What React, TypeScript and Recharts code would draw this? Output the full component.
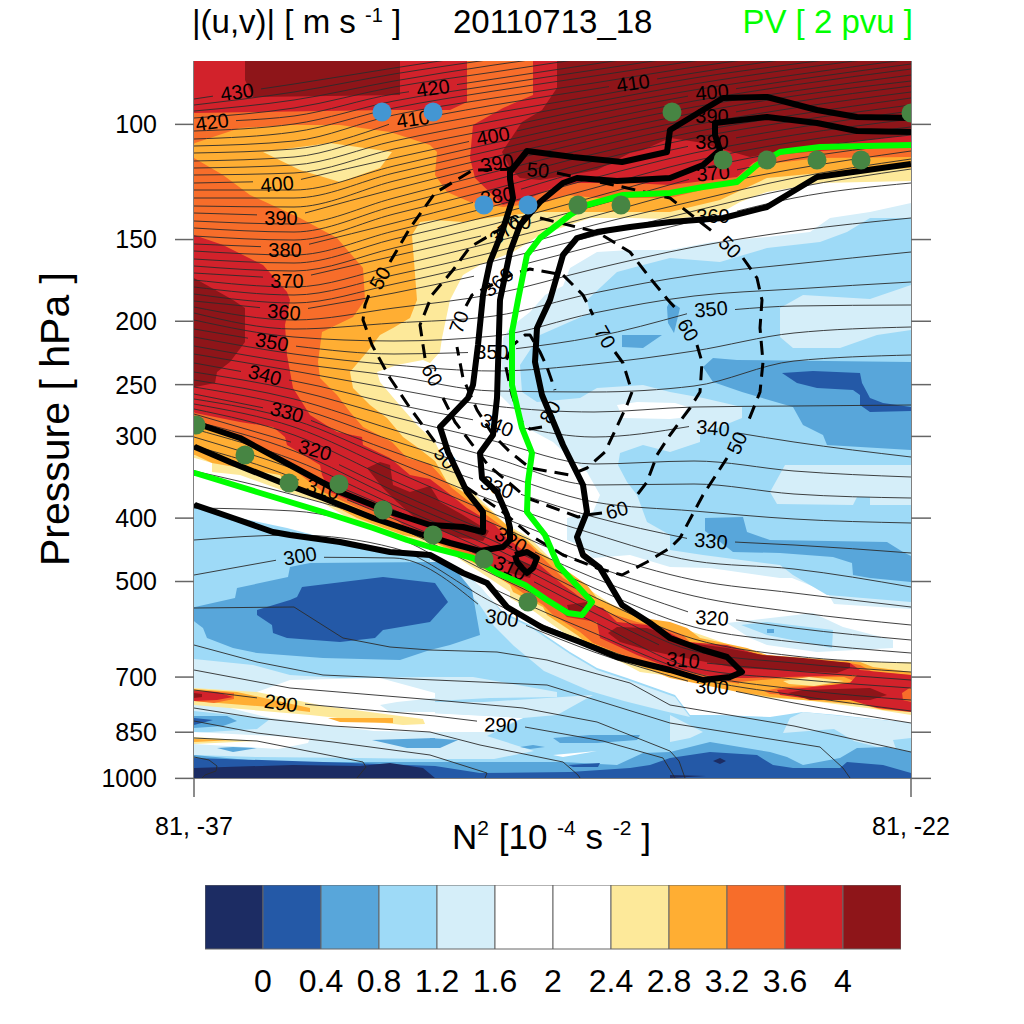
import React from "react";
import { BarChart, Bar, Curve, Scatter, ScatterChart, XAxis, YAxis } from "recharts";

const FONT = "Liberation Sans";

// N2 colour bands, low to high
const bandColors = ["#1c2c63", "#2459a7", "#58a6da", "#9edaf7", "#d5eef9", "#ffffff", "#ffffff", "#fde99a", "#ffae33", "#f76d2a", "#d2222b", "#8e1519"];
const bandLabels = ["0", "0.4", "0.8", "1.2", "1.6", "2", "2.4", "2.8", "3.2", "3.6", "4"];

// axes: distance along the section, and log-pressure height (both 0-717)
const pressureTicks = [100, 150, 200, 250, 300, 400, 500, 700, 850, 1000];
const heightOfPressure = (p: number) => 654 * Math.log10(p / 80);
const SPAN = 717;

type P = [number, number];

// N2 shading, painted in order
const plotBase: P[] = [[0, 0], [717, 0], [717, 717], [0, 717]];
const whiteMain: P[] = [[0, 0], [717, 0], [717, 662], [643, 654], [609, 651], [576, 656], [526, 654], [496, 654], [481, 634], [433, 617], [403, 607], [376, 591], [336, 564], [309, 551], [280, 520], [241, 497], [196, 491], [146, 481], [93, 467], [46, 457], [0, 444]];
const paleMain: P[] = [[717, 142], [676, 151], [636, 157], [616, 171], [573, 176], [519, 181], [476, 189], [436, 189], [403, 191], [376, 207], [369, 225], [351, 234], [336, 251], [323, 261], [316, 267], [309, 277], [306, 334], [323, 351], [333, 367], [359, 381], [376, 397], [393, 411], [406, 434], [399, 451], [373, 457], [373, 479], [385, 484], [399, 497], [436, 494], [476, 506], [516, 507], [586, 517], [598, 517], [633, 531], [640, 543], [717, 548]];
const blueMain: P[] = [[717, 157], [676, 157], [653, 171], [626, 181], [573, 187], [526, 201], [476, 197], [449, 204], [423, 211], [393, 239], [396, 252], [346, 274], [326, 304], [328, 331], [343, 341], [386, 337], [403, 327], [449, 324], [476, 331], [509, 337], [548, 346], [548, 357], [506, 374], [506, 381], [476, 391], [449, 384], [426, 392], [424, 404], [433, 421], [443, 434], [453, 461], [476, 474], [476, 489], [509, 494], [586, 504], [599, 514], [633, 534], [669, 537], [717, 541]];
const paleUpperRight: P[] = [[717, 224], [676, 238], [609, 234], [586, 247], [586, 276], [599, 287], [646, 287], [683, 274], [717, 269]];
const paleMidRight: P[] = [[591, 404], [717, 404], [717, 444], [676, 444], [676, 436], [663, 436], [659, 444], [583, 443], [576, 431]];
const midBlueRight: P[] = [[509, 306], [519, 297], [543, 299], [717, 301], [717, 389], [633, 384], [629, 374], [609, 364], [599, 346], [548, 331], [519, 321]];
const deepBlueRight: P[] = [[588, 312], [619, 310], [666, 312], [668, 322], [676, 337], [689, 342], [717, 346], [717, 350], [676, 351], [666, 344], [666, 334], [659, 329], [623, 327], [603, 322]];
const midBlueSpot: P[] = [[428, 274], [468, 274], [449, 287], [428, 286]];
const midBlueSliver: P[] = [[473, 246], [476, 240], [486, 247], [480, 272], [474, 262]];
const midBlueLower: P[] = [[511, 457], [549, 456], [553, 471], [576, 479], [693, 481], [709, 491], [717, 495], [717, 521], [676, 517], [659, 514], [658, 502], [639, 496], [586, 492], [539, 491], [525, 480], [511, 470]];
const whiteSpot: P[] = [[423, 344], [443, 341], [481, 342], [494, 346], [486, 357], [476, 358], [429, 357]];
const paleFrontSliver: P[] = [[236, 497], [259, 506], [286, 525], [309, 553], [336, 566], [376, 593], [403, 609], [433, 619], [481, 636], [496, 656], [470, 650], [430, 640], [396, 630], [350, 610], [320, 585], [300, 565], [283, 540], [256, 520], [236, 505]];
const paleTail: P[] = [[533, 562], [619, 552], [649, 566], [699, 579], [699, 587], [623, 591], [573, 584], [556, 577]];
const blueTail: P[] = [[547, 564], [573, 561], [639, 569], [638, 587], [573, 574]];
const midBlueTail: P[] = [[573, 568], [580, 568], [580, 572], [573, 572]];
const paleBottomRight: P[] = [[609, 651], [717, 662], [717, 677], [699, 679], [703, 691], [660, 680], [640, 668], [589, 672], [596, 657]];
const paleBottomMid: P[] = [[476, 654], [509, 671], [496, 677], [476, 681]];
const midBlueBlob: P[] = [[1, 546], [41, 537], [43, 527], [94, 516], [96, 506], [116, 502], [241, 501], [256, 502], [278, 529], [286, 574], [256, 584], [236, 589], [206, 599], [129, 597], [63, 592], [39, 587], [13, 577], [9, 567], [1, 561], [0, 560], [0, 546]];
const deepBlueBlob: P[] = [[103, 536], [108, 526], [189, 516], [241, 522], [254, 541], [236, 561], [189, 569], [181, 577], [146, 581], [93, 577], [79, 572], [78, 564], [63, 554], [63, 549], [96, 539]];
const lowPale: P[] = [[0, 598], [59, 604], [96, 614], [146, 617], [236, 616], [279, 616], [363, 631], [363, 636], [296, 637], [241, 640], [236, 652], [329, 657], [293, 675], [340, 690], [300, 698], [241, 698], [163, 697], [63, 696], [0, 694]];
const lowPaleRight: P[] = [[290, 641], [399, 634], [363, 654], [329, 657], [236, 652], [236, 641]];
const lowWhiteLeft: P[] = [[96, 619], [186, 617], [241, 632], [241, 671], [180, 670], [76, 657], [36, 647], [60, 632]];
const lowWhiteMid: P[] = [[236, 652], [329, 657], [293, 671], [236, 671]];
const lowPaleSpot: P[] = [[186, 644], [203, 641], [241, 637], [241, 651], [196, 651]];
const lowBlueLeft: P[] = [[0, 650], [76, 658], [63, 668], [0, 672]];
const lowMidLeft: P[] = [[0, 655], [33, 655], [43, 660], [29, 665], [0, 667]];
const lowDeepLeft: P[] = [[0, 657], [19, 659], [0, 664]];
const lowWhiteBand: P[] = [[0, 671], [116, 677], [114, 682], [84, 688], [0, 683]];
const lowWhiteSliver: P[] = [[359, 694], [403, 690], [369, 696]];
const lowSpots: P[][] = [
  [[359, 677], [396, 674], [446, 674], [443, 679], [403, 682], [366, 682]],
  [[326, 686], [339, 684], [351, 686], [336, 688]],
  [[236, 677], [264, 679], [246, 687], [236, 687]],
  [[178, 679], [241, 677], [241, 687], [213, 687]],
  [[23, 687], [39, 686], [63, 687], [39, 691]],
];
const bottomMid: P[] = [[0, 694], [76, 701], [241, 701], [369, 701], [423, 704], [449, 692], [476, 691], [516, 681], [576, 691], [593, 696], [609, 704], [646, 697], [663, 687], [693, 686], [717, 691], [717, 717], [0, 717]];
const bottomDeep: P[] = [[0, 697], [129, 701], [241, 705], [286, 712], [376, 711], [436, 707], [456, 704], [476, 697], [516, 691], [563, 694], [579, 704], [599, 707], [646, 707], [653, 701], [689, 704], [717, 712], [717, 717], [0, 717]];
const bottomNavy: P[] = [[0, 707], [99, 704], [166, 705], [196, 702], [229, 707], [241, 717], [0, 717]];
const navySpot: P[] = [[519, 700], [526, 697], [532, 700], [526, 703]];
const navySliver: P[] = [[476, 714], [512, 715], [476, 717]];
const deepSpotLow: P[] = [[374, 704], [406, 702], [404, 706], [379, 706]];
const lowYellow: P[] = [[0, 627], [63, 631], [130, 645], [229, 658], [231, 663], [209, 664], [116, 654], [0, 644]];
const lowAmberA: P[] = [[0, 628], [43, 631], [116, 647], [116, 651], [76, 646], [0, 640]];
const lowAmberB: P[] = [[134, 657], [199, 657], [199, 662], [146, 661]];
const lowOrange: P[] = [[0, 629], [40, 632], [40, 638], [20, 642], [0, 640]];
const lowRed: P[] = [[0, 630], [23, 631], [39, 636], [23, 639], [0, 640]];
const lowDark: P[] = [[0, 632], [8, 633], [8, 636], [0, 637]];
const nearGroundYellow: P[] = [[0, 676], [63, 680], [0, 683]];
const nearGroundAmber: P[] = [[0, 678], [40, 679], [0, 681]];

const yellowFront: P[] = [[0, 0], [717, 0], [717, 120], [626, 122], [573, 131], [546, 141], [523, 154], [476, 158], [436, 157], [396, 157], [346, 174], [319, 191], [286, 204], [269, 214], [256, 239], [248, 277], [246, 291], [236, 302], [229, 299], [203, 304], [183, 311], [186, 321], [203, 341], [223, 364], [241, 381], [246, 391], [269, 421], [289, 441], [313, 464], [336, 477], [356, 497], [379, 517], [399, 531], [423, 547], [449, 561], [476, 564], [499, 571], [536, 584], [573, 594], [609, 598], [666, 601], [717, 601], [717, 654], [673, 647], [609, 639], [576, 637], [544, 631], [499, 619], [476, 615], [446, 611], [429, 602], [396, 587], [383, 581], [349, 557], [341, 551], [316, 537], [316, 531], [286, 511], [259, 494], [236, 484], [209, 479], [161, 461], [129, 442], [93, 431], [46, 414], [18, 411], [18, 402], [1, 397], [0, 397]];
const amberFront: P[] = [[0, 0], [717, 0], [717, 107], [626, 112], [573, 117], [526, 139], [476, 151], [396, 151], [346, 151], [319, 154], [293, 157], [269, 161], [241, 159], [226, 161], [218, 174], [223, 239], [216, 257], [199, 267], [186, 274], [173, 291], [156, 311], [159, 327], [176, 344], [193, 357], [209, 376], [223, 386], [241, 400], [253, 421], [279, 437], [293, 447], [316, 467], [333, 479], [346, 491], [369, 507], [393, 524], [403, 537], [426, 547], [449, 557], [476, 561], [493, 567], [506, 577], [553, 587], [573, 594], [666, 601], [679, 606], [717, 611], [717, 651], [689, 649], [669, 644], [609, 639], [576, 636], [544, 631], [476, 617], [443, 604], [399, 587], [383, 574], [353, 554], [349, 546], [319, 531], [316, 524], [289, 507], [259, 491], [236, 479], [209, 474], [163, 457], [129, 439], [93, 424], [86, 414], [18, 402], [1, 394], [0, 394]];
const yellowIsland: P[] = [[69, 91], [136, 82], [198, 91], [186, 107], [146, 121], [106, 109]];
const orangeTop: P[] = [[0, 0], [717, 0], [717, 96], [626, 97], [563, 104], [539, 121], [476, 137], [403, 137], [373, 134], [353, 141], [309, 146], [276, 141], [253, 131], [241, 114], [243, 91], [236, 84], [196, 71], [146, 64], [96, 64], [46, 67], [1, 82], [0, 83]];
const orangeFront: P[] = [[0, 97], [29, 114], [56, 134], [106, 157], [143, 177], [169, 207], [171, 239], [159, 256], [128, 271], [124, 301], [126, 317], [143, 334], [156, 351], [169, 366], [198, 381], [213, 397], [236, 403], [258, 427], [283, 447], [313, 469], [336, 484], [353, 501], [369, 517], [389, 529], [399, 544], [416, 552], [443, 561], [476, 569], [489, 574], [496, 581], [533, 587], [569, 594], [656, 602], [666, 604], [679, 611], [717, 614], [717, 645], [640, 636], [576, 633], [560, 625], [476, 612], [436, 597], [399, 582], [386, 571], [359, 554], [349, 544], [329, 532], [299, 511], [279, 499], [256, 487], [236, 479], [209, 467], [179, 454], [129, 431], [96, 406], [43, 379], [1, 362], [0, 361]];
const amberTail: P[] = [[545, 621], [590, 617], [650, 616], [660, 620], [640, 624], [590, 626], [570, 630], [545, 630]];
const yellowTail: P[] = [[589, 620], [615, 616], [650, 620], [620, 625], [595, 623]];
const redTopLeft: P[] = [[0, 0], [273, 0], [273, 41], [256, 49], [196, 49], [63, 51], [0, 52]];
const redTopRight: P[] = [[339, 0], [339, 34], [309, 47], [279, 64], [276, 97], [281, 117], [309, 144], [336, 137], [359, 127], [383, 122], [436, 122], [476, 124], [543, 116], [559, 102], [579, 94], [626, 90], [717, 85], [717, 0]];
const redFront: P[] = [[0, 174], [29, 184], [69, 204], [93, 231], [96, 239], [91, 264], [93, 294], [99, 327], [116, 354], [143, 371], [168, 376], [169, 384], [196, 397], [216, 414], [236, 418], [253, 431], [273, 447], [301, 464], [313, 477], [326, 487], [346, 504], [369, 524], [379, 531], [396, 544], [409, 547], [423, 561], [453, 564], [476, 572], [493, 581], [533, 584], [573, 596], [656, 602], [666, 609], [717, 614], [717, 651], [683, 647], [649, 637], [609, 637], [586, 634], [583, 629], [609, 627], [656, 622], [663, 614], [593, 616], [553, 617], [526, 617], [476, 607], [443, 594], [406, 577], [403, 561], [373, 556], [366, 549], [343, 531], [299, 511], [283, 494], [256, 481], [209, 464], [196, 454], [173, 447], [136, 431], [128, 414], [126, 404], [93, 384], [91, 376], [79, 366], [46, 361], [1, 352], [0, 351]];
const orangeEdgeRight: P[] = [[708, 632], [717, 626], [717, 641], [709, 639]];
const darkTopLeft: P[] = [[51, 0], [51, 19], [59, 36], [206, 34], [206, 0]];
const darkLeft: P[] = [[0, 217], [39, 239], [51, 247], [51, 281], [36, 301], [23, 311], [21, 322], [1, 326], [0, 326]];
const darkTopRight: P[] = [[363, 0], [363, 27], [348, 49], [328, 61], [308, 91], [316, 107], [326, 117], [346, 119], [376, 114], [403, 109], [436, 92], [449, 89], [476, 77], [503, 81], [556, 96], [583, 91], [626, 84], [717, 74], [717, 0]];
const darkFold: P[] = [[173, 407], [186, 401], [196, 404], [199, 424], [216, 431], [236, 425], [246, 441], [269, 454], [295, 470], [289, 480], [263, 476], [241, 467], [226, 461], [203, 441], [188, 426]];
const darkLoop: P[] = [[320, 497], [340, 505], [336, 517], [316, 512]];
const darkSpot: P[] = [[373, 544], [393, 541], [396, 549], [386, 556], [376, 554]];
const darkStrip: P[] = [[414, 572], [423, 566], [453, 567], [476, 574], [496, 582], [533, 587], [569, 594], [609, 597], [656, 602], [656, 607], [643, 612], [543, 607], [476, 594], [453, 589], [426, 581]];
const darkTail: P[] = [[594, 632], [609, 629], [676, 627], [693, 634], [676, 639], [616, 639]];

const shadeOrder: [number, P[]][] = [
  [3, plotBase], [5, whiteMain], [4, paleMain], [3, blueMain], [4, paleUpperRight], [4, paleMidRight],
  [2, midBlueRight], [1, deepBlueRight], [2, midBlueSpot], [2, midBlueSliver], [2, midBlueLower], [5, whiteSpot],
  [4, paleFrontSliver], [4, paleTail], [3, blueTail], [2, midBlueTail], [4, paleBottomRight], [4, paleBottomMid],
  [2, midBlueBlob], [1, deepBlueBlob], [4, lowPale], [4, lowPaleRight], [5, lowWhiteLeft], [5, lowWhiteMid],
  [4, lowPaleSpot], [3, lowBlueLeft], [2, lowMidLeft], [1, lowDeepLeft], [5, lowWhiteBand], [5, lowWhiteSliver],
  ...lowSpots.map((s): [number, P[]] => [2, s]),
  [2, bottomMid], [1, bottomDeep], [0, bottomNavy], [0, navySpot], [0, navySliver], [1, deepSpotLow],
  [7, lowYellow], [8, lowAmberA], [8, lowAmberB], [9, lowOrange], [10, lowRed], [11, lowDark], [7, nearGroundYellow], [8, nearGroundAmber],
  [7, yellowFront], [8, amberFront], [7, yellowIsland], [9, orangeTop], [9, orangeFront], [8, amberTail], [7, yellowTail],
  [10, redTopLeft], [10, redTopRight], [10, redFront], [9, orangeEdgeRight],
  [11, darkTopLeft], [11, darkLeft], [11, darkTopRight], [11, darkFold], [11, darkLoop], [11, darkSpot], [11, darkStrip], [11, darkTail],
];

// potential temperature: height of each level at these section stations
const thetaStations = [0, 100, 200, 300, 400, 500, 600, 717];
const thetaLevels = [300, 302.5, 305, 307.5, 310, 312.5, 315, 317.5, 320, 322.5, 325, 327.5, 330, 332.5, 335, 337.5, 340, 342.5, 345, 347.5, 350, 352.5, 355, 357.5, 360, 362.5, 365, 367.5, 370, 372.5, 375, 377.5, 380, 382.5, 385, 387.5, 390, 392.5, 395, 397.5, 400, 402.5, 405, 407.5, 410, 412.5, 415, 417.5, 420, 422.5, 425, 427.5, 430];
const thetaHeights = [
  [514, 496, 497, 552, 591, 622, 642, 662], [479, 474, 487, 542, 584, 617, 634, 650], [447, 450, 475, 528, 572, 612, 628, 639], [410, 434, 465, 514, 561, 607, 618, 627],
  [385, 417, 458, 500, 552, 601, 610, 619], [376, 408, 449, 493, 544, 590, 602, 611], [368, 399, 444, 487, 536, 578, 595, 602], [360, 390, 437, 480, 527, 566, 581, 592],
  [353, 382, 430, 473, 517, 553, 567, 579], [348, 374, 420, 463, 505, 535, 551, 564], [343, 366, 410, 453, 491, 519, 532, 546], [338, 359, 400, 440, 473, 500, 508, 526],
  [333, 353, 391, 425, 456, 479, 484, 492], [326, 346, 380, 411, 441, 450, 458, 462], [319, 338, 369, 397, 424, 423, 433, 437], [311, 329, 356, 380, 403, 400, 410, 416],
  [302, 320, 343, 363, 376, 365, 381, 396], [293, 310, 328, 345, 351, 346, 345, 344], [285, 302, 315, 330, 331, 325, 300, 294], [276, 293, 304, 310, 303, 290, 272, 266],
  [268, 285, 293, 291, 276, 251, 245, 244], [259, 276, 280, 275, 252, 235, 228, 221], [252, 268, 262, 255, 232, 214, 203, 191], [246, 259, 247, 233, 208, 186, 170, 157],
  [240, 250, 232, 211, 185, 160, 137, 122], [233, 242, 223, 200, 175, 150, 127, 108], [226, 234, 214, 191, 164, 140, 117, 98], [219, 226, 205, 181, 155, 128, 108, 90],
  [212, 218, 195, 172, 145, 117, 98, 82], [205, 210, 187, 163, 136, 109, 89, 74], [198, 202, 178, 154, 127, 100, 81, 66], [190, 194, 170, 145, 117, 92, 74, 58],
  [183, 187, 162, 136, 107, 84, 67, 50], [175, 179, 153, 128, 100, 77, 60, 44], [167, 171, 145, 119, 93, 71, 54, 37], [160, 163, 137, 111, 86, 64, 47, 31],
  [152, 155, 128, 103, 79, 58, 41, 25], [145, 146, 120, 96, 73, 52, 35, 20], [137, 137, 112, 89, 66, 46, 30, 14], [129, 129, 105, 82, 60, 40, 24, 8],
  [122, 120, 97, 75, 53, 34, 19, 3], [114, 112, 88, 68, 47, 29, 14, -2], [107, 104, 80, 60, 41, 23, 8, -7], [100, 96, 71, 52, 35, 17, 3, -12],
  [92, 88, 62, 44, 28, 12, -3, -17], [85, 80, 54, 37, 22, 6, -8, -22], [78, 71, 47, 30, 15, 0, -14, -28], [70, 63, 40, 24, 9, -6, -20, -34],
  [63, 55, 33, 18, 3, -12, -26, -40], [57, 47, 26, 11, -4, -18, -32, -46], [50, 39, 20, 4, -10, -24, -38, -52], [44, 31, 13, -2, -16, -30, -44, -58],
  [38, 23, 7, -8, -22, -36, -50, -64],
];
const theta2975: P[] = [[0, 547], [100, 546], [149, 577], [196, 586], [236, 589], [303, 591], [353, 599], [396, 611], [436, 622], [476, 644], [600, 665], [717, 691]];
const theta295: P[] = [[0, 584], [63, 601], [129, 614], [241, 619], [353, 624], [476, 662], [626, 686], [649, 707], [656, 717]];
const theta2925: P[] = [[0, 609], [96, 627], [241, 639], [329, 647], [403, 661], [476, 690], [485, 700], [491, 717]];
const theta290: P[] = [[0, 629], [64, 637], [109, 643], [241, 655], [331, 666], [409, 680], [469, 697], [481, 717]];
const theta2875: P[] = [[0, 647], [63, 657], [139, 665], [236, 671], [286, 684], [369, 701], [384, 714], [386, 717]];
const theta285: P[] = [[0, 660], [63, 672], [139, 681], [236, 694], [293, 712], [291, 717]];
const theta2825: P[] = [[0, 677], [63, 680], [169, 701], [172, 706], [163, 717]];
const theta280: P[] = [[0, 696], [15, 699], [23, 705], [22, 710], [11, 714], [8, 717]];
const lowThetaLines = [theta2975, theta295, theta2925, theta2875, theta285, theta2825, theta280];

const thetaLabels: [number, number, number, number][] = [
  [430, 43, 31, -8], [420, 18, 61, -8], [420, 239, 27, -8], [410, 219, 58, -8], [410, 439, 22, -8],
  [400, 83, 123, -5], [400, 299, 75, -10], [400, 518, 31, -5], [390, 87, 157, 0], [390, 303, 102, -10], [390, 518, 55, 0],
  [380, 91, 189, 0], [380, 303, 135, -10], [380, 518, 81, 0], [370, 93, 220, 0], [370, 311, 169, -40], [370, 519, 112, -5],
  [360, 90, 251, 5], [360, 304, 221, -40], [360, 519, 155, 0], [350, 78, 281, 10], [350, 298, 291, 0], [350, 517, 248, -5],
  [340, 71, 314, 15], [340, 303, 364, 22], [340, 519, 367, 5], [330, 93, 351, 15], [330, 303, 426, 20], [330, 517, 480, 5],
  [320, 121, 389, 15], [320, 317, 479, 30], [320, 518, 557, 3], [310, 129, 428, 15], [310, 316, 507, 25], [310, 489, 599, 5],
  [300, 106, 495, -10], [300, 308, 557, 8], [300, 518, 626, 3], [290, 87, 642, 8], [290, 307, 664, 2],
];

// wind speed, one list per dashed run between labels
const speed50: P[][] = [
  [[363, 112], [433, 127], [476, 137], [519, 171]],
  [[549, 197], [563, 217], [568, 239], [566, 267], [569, 301], [566, 331], [554, 361]],
  [[533, 397], [509, 434], [486, 477], [476, 487], [453, 501], [428, 514], [403, 507], [369, 494], [336, 474], [309, 451], [269, 424]],
  [[241, 381], [216, 347], [196, 317], [178, 284], [169, 259], [171, 244], [176, 231]],
  [[196, 201], [216, 167], [241, 132], [279, 109], [325, 108]],
];
const speed60: P[][] = [
  [[346, 157], [403, 171], [436, 191], [456, 217], [474, 239], [484, 250]],
  [[503, 284], [508, 301], [506, 331], [496, 347], [476, 374], [463, 394], [453, 421], [443, 434]],
  [[408, 452], [393, 454], [384, 456], [333, 437], [294, 404], [261, 361], [249, 337]],
  [[231, 297], [226, 264], [238, 234], [259, 209], [276, 186], [310, 166]],
];
const speed70: P[][] = [
  [[272, 245], [278, 234], [319, 213], [336, 208], [369, 214], [389, 234], [399, 254]],
  [[421, 291], [429, 302], [438, 331], [433, 344], [411, 391], [393, 407], [376, 414], [336, 407], [316, 391], [299, 374], [283, 349], [269, 317], [263, 286]],
];
const speed80: P[][] = [
  [[316, 291], [319, 284], [331, 274], [336, 274], [346, 291], [353, 306], [361, 329]],
  [[348, 366], [336, 368], [328, 361], [318, 334], [311, 302], [316, 291]],
];
const speedLabels: [string, number, number, number][] = [
  ["50", 186, 217, -60], ["50", 344, 109, 5], ["50", 251, 397, 50], ["50", 536, 186, 45], ["50", 543, 382, -65],
  ["60", 238, 314, 60], ["60", 494, 269, 60], ["60", 326, 161, 0], ["60", 423, 449, -15],
  ["70", 265, 261, -70], ["70", 411, 276, 60], ["80", 356, 351, -60],
];

// 2 pvu and neighbouring PV contours
const pvUpper: P[] = [[717, 57], [663, 56], [623, 49], [573, 36], [529, 37], [509, 49], [476, 69], [473, 91], [428, 101], [379, 96], [333, 90], [316, 111], [316, 118], [319, 137], [308, 171], [296, 201], [289, 234], [284, 284], [279, 324], [274, 337], [246, 366], [254, 391], [273, 431], [289, 451], [289, 471], [269, 466], [236, 464], [196, 451], [146, 431], [96, 404], [46, 377], [1, 362], [0, 361]];
const pvMiddle: P[] = [[717, 71], [663, 70], [623, 62], [573, 56], [521, 62], [521, 74], [526, 89], [509, 104], [476, 117], [423, 120], [383, 117], [369, 122], [346, 141], [326, 164], [316, 191], [306, 239], [303, 337], [299, 374], [286, 392], [288, 417], [303, 431], [313, 454], [316, 467], [316, 479], [309, 486], [286, 490], [256, 482], [229, 474], [179, 457], [129, 437], [86, 421], [36, 401], [1, 386], [0, 385]];
const pvLower: P[] = [[717, 103], [623, 116], [573, 146], [529, 157], [476, 161], [436, 166], [403, 171], [383, 177], [369, 194], [356, 239], [343, 267], [341, 301], [348, 334], [369, 384], [389, 424], [393, 451], [383, 476], [389, 494], [406, 507], [428, 544], [456, 562], [476, 577], [509, 589], [533, 596], [548, 611], [536, 616], [509, 619], [476, 609], [423, 596], [386, 581], [349, 567], [313, 546], [293, 522], [269, 512], [236, 494], [196, 491], [146, 481], [96, 474], [79, 471], [39, 457], [1, 444], [0, 443]];
const pvLoop: P[] = [[321, 494], [333, 491], [343, 497], [339, 507], [333, 512], [328, 507], [323, 501], [321, 494]];
const pvGreen: P[] = [[717, 84], [626, 86], [586, 91], [563, 104], [543, 121], [509, 126], [476, 132], [429, 134], [393, 144], [376, 154], [346, 177], [333, 194], [324, 239], [318, 271], [318, 324], [328, 367], [338, 392], [334, 421], [333, 451], [351, 474], [364, 504], [398, 541], [388, 554], [374, 552], [353, 539], [331, 524], [303, 512], [279, 497], [236, 486], [213, 479], [179, 467], [129, 451], [63, 431], [1, 412], [0, 412]];

const greenDots: P[] = [[478, 51], [529, 99], [573, 99], [623, 99], [667, 99], [717, 52], [384, 144], [427, 144], [2, 364], [51, 394], [95, 422], [145, 423], [189, 449], [239, 474], [290, 498], [334, 541]];
const blueDots: P[] = [[188, 51], [239, 51], [290, 144], [334, 144]];

const rows = (pts: P[]) => pts.map(([x, z]) => ({ x, z }));
const noMark = () => <g />;

function shade(fill: string) {
  return (props: any) => {
    const d = props.points.map((p: any, i: number) => `${i ? "L" : "M"}${p.x},${p.y}`).join(" ") + " Z";
    return <path d={d} fill={fill} stroke="none" />;
  };
}

function stroked(stroke: string, width: number, type: any, dash?: string) {
  return (props: any) => (
    <Curve points={props.points} type={type} fill="none" stroke={stroke} strokeWidth={width} strokeDasharray={dash} strokeLinejoin="round" />
  );
}

// leave a gap in a contour where its label sits
function cutAtLabels(pts: P[], level: number): P[][] {
  const gaps = thetaLabels.filter((l) => l[0] === level).map((l) => l[1]).sort((a, b) => a - b);
  const heightAt = (x: number) => {
    for (let i = 1; i < pts.length; i++) {
      if (x <= pts[i][0]) {
        const t = (x - pts[i - 1][0]) / (pts[i][0] - pts[i - 1][0]);
        return pts[i - 1][1] + t * (pts[i][1] - pts[i - 1][1]);
      }
    }
    return pts[pts.length - 1][1];
  };
  const out: P[][] = [];
  let start = pts[0][0];
  for (const g of [...gaps, Infinity]) {
    const stop = g === Infinity ? pts[pts.length - 1][0] : g - 24;
    const inner = pts.filter((p) => p[0] > start && p[0] < stop);
    if (stop > start) out.push([[start, heightAt(start)], ...inner, [stop, heightAt(stop)]]);
    start = g + 24;
  }
  return out;
}

function labelMark(text: string, angle: number, size: number) {
  return (props: any) => (
    <text x={props.cx} y={props.cy} fontFamily={FONT} fontSize={size} fill="#000" textAnchor="middle" dominantBaseline="central"
      transform={`rotate(${angle} ${props.cx} ${props.cy})`}>
      {text}
    </text>
  );
}

function dotMark(fill: string, r: number) {
  return (props: any) => <circle cx={props.cx} cy={props.cy} r={r} fill={fill} />;
}

function lineSeries(key: string, pts: P[], render: any) {
  return <Scatter key={key} data={rows(pts)} shape={noMark} line={render} isAnimationActive={false} />;
}

const thin = stroked("#2b2b2b", 0.9, "monotoneX");
const thinRough = stroked("#2b2b2b", 0.9, "linear");
const dashed = stroked("#000", 3, "linear", "14 8");
const thick = stroked("#000", 6, "linear");
const greenLine = stroked("#00ff00", 6, "linear");

const colorRow = [Object.fromEntries(bandColors.map((_, i) => [`b${i}`, 1]))];

export default function App() {
  const tickStyle = { fontFamily: FONT, fontSize: 25, fill: "#000" };
  return (
    <div style={{ position: "absolute", left: 0, top: 0, width: 1024, height: 1024, background: "#fff" }}>
      <ScatterChart width={1024} height={860} margin={{ top: 61, right: 0, bottom: 22, left: 0 }}>
        {shadeOrder.map(([band, pts], i) => lineSeries(`s${i}`, pts, shade(bandColors[band])))}

        {thetaLevels.flatMap((level, i) =>
          cutAtLabels(thetaStations.map((x, k): P => [x, thetaHeights[i][k]]), level).map((seg, j) => lineSeries(`t${i}-${j}`, seg, thin))
        )}
        {cutAtLabels(theta290, 290).map((seg, j) => lineSeries(`t290-${j}`, seg, thinRough))}
        {lowThetaLines.map((pts, i) => lineSeries(`l${i}`, pts, thinRough))}
        {thetaLabels.map(([level, x, z, angle], i) => (
          <Scatter key={`tl${i}`} data={[{ x, z }]} shape={labelMark(String(level), angle, 20)} isAnimationActive={false} />
        ))}

        {[...speed50, ...speed60, ...speed70, ...speed80].map((pts, i) => lineSeries(`w${i}`, pts, dashed))}
        {speedLabels.map(([text, x, z, angle], i) => (
          <Scatter key={`wl${i}`} data={[{ x, z }]} shape={labelMark(text, angle, 20)} isAnimationActive={false} />
        ))}

        {[pvUpper, pvMiddle, pvLower, pvLoop].map((pts, i) => lineSeries(`k${i}`, pts, thick))}
        {lineSeries("green", pvGreen, greenLine)}
        <Scatter data={rows(greenDots)} shape={dotMark("#478543", 9.5)} isAnimationActive={false} />
        <Scatter data={rows(blueDots)} shape={dotMark("#4396d2", 9.5)} isAnimationActive={false} />

        <XAxis
          dataKey="x"
          type="number"
          domain={[0, SPAN]}
          allowDataOverflow
          ticks={[0, SPAN]}
          height={60}
          tickSize={19}
          tickMargin={6}
          tick={{ ...tickStyle, dy: 14 }}
          tickLine={{ stroke: "#666", strokeWidth: 1.5 }}
          stroke="#000"
          tickFormatter={(v: number) => (v === 0 ? "81, -37" : "81, -22")}
        />
        <XAxis xAxisId="top" orientation="top" type="number" domain={[0, SPAN]} allowDataOverflow height={0} ticks={[]} stroke="#000" />
        <YAxis
          dataKey="z"
          type="number"
          reversed
          domain={[0, SPAN]}
          allowDataOverflow
          width={194}
          ticks={pressureTicks.map(heightOfPressure)}
          tickSize={19}
          tickMargin={18}
          tick={tickStyle}
          tickLine={{ stroke: "#666", strokeWidth: 1.5 }}
          stroke="#000"
          tickFormatter={(v: number) => String(pressureTicks[pressureTicks.map(heightOfPressure).indexOf(v)])}
        />
        <YAxis
          yAxisId="right"
          orientation="right"
          type="number"
          reversed
          domain={[0, SPAN]}
          allowDataOverflow
          width={113}
          ticks={pressureTicks.map(heightOfPressure)}
          tickSize={20}
          tickLine={{ stroke: "#666", strokeWidth: 1.5 }}
          stroke="#000"
          tickFormatter={() => ""}
        />
      </ScatterChart>

      <div style={{ position: "absolute", left: 205, top: 885 }}>
        <BarChart width={696} height={125} layout="vertical" data={colorRow} margin={{ top: 0, right: 0, bottom: 0, left: 0 }} barCategoryGap={0}>
          <YAxis type="category" hide />
          <XAxis
            type="number"
            domain={[0, 12]}
            ticks={bandLabels.map((_, i) => i + 1)}
            height={61}
            tickLine={false}
            axisLine={false}
            tickMargin={14}
            interval={0}
            tick={{ fontFamily: FONT, fontSize: 32, fill: "#000" }}
            tickFormatter={(v: number) => bandLabels[v - 1]}
          />
          {bandColors.map((c, i) => (
            <Bar key={i} dataKey={`b${i}`} stackId="bar" fill={c} stroke="#666" strokeWidth={1} isAnimationActive={false} />
          ))}
        </BarChart>
      </div>

      <svg width={1024} height={1024} style={{ position: "absolute", left: 0, top: 0, pointerEvents: "none" }} fontFamily={FONT} fill="#000">
        <text x={192} y={33} fontSize={33}>
          |(u,v)| [ m s <tspan fontSize={20} dy={-11}>-1</tspan><tspan dy={11}> ]</tspan>
        </text>
        <text x={453} y={33} fontSize={33}>20110713_18</text>
        <text x={913} y={33} fontSize={33} fill="#00ff00" textAnchor="end">PV [ 2 pvu ]</text>
        <text transform="translate(69 419) rotate(-90)" fontSize={41} textAnchor="middle">Pressure [ hPa ]</text>
        <text x={452} y={849} fontSize={35}>
          N<tspan fontSize={21} dy={-14}>2</tspan><tspan dy={14}> [10 </tspan><tspan fontSize={21} dy={-14}>-4</tspan><tspan dy={14}> s </tspan><tspan fontSize={21} dy={-14}>-2</tspan><tspan dy={14}> ]</tspan>
        </text>
      </svg>
    </div>
  );
}
